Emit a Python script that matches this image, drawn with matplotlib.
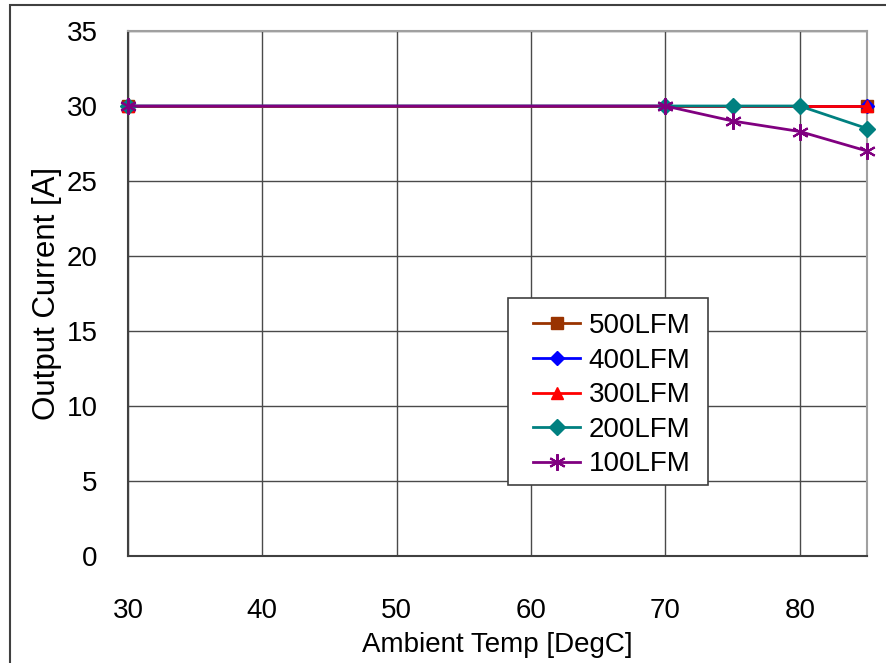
import matplotlib
matplotlib.use("Agg")
import matplotlib.pyplot as plt
from matplotlib.patches import Rectangle

plt.rcParams['font.family'] = ['Liberation Sans', 'DejaVu Sans']

# data
temp_500 = [30, 85]
curr_500 = [30, 30]
temp_400 = [30, 85]
curr_400 = [30, 30]
temp_300 = [30, 85]
curr_300 = [30, 30]
temp_200 = [30, 70, 75, 80, 85]
curr_200 = [30, 30, 30, 30, 28.5]
temp_100 = [30, 70, 75, 80, 85]
curr_100 = [30, 30, 29.0, 28.3, 27.0]

x_ticks = [30, 40, 50, 60, 70, 80]
y_ticks = [0, 5, 10, 15, 20, 25, 30, 35]

W, H = 887, 663
fig = plt.figure(figsize=(W / 100, H / 100), dpi=100)
ax = fig.add_axes([128 / W, 1 - 556 / H, (867 - 128) / W, (556 - 31) / H])

# outer frame, runs off the right and bottom edge
fig.patches.append(Rectangle((10 / W, -0.1), 1.2, 1 - 5 / H + 0.1,
                             transform=fig.transFigure, fill=False,
                             edgecolor='#404040', linewidth=1.5))

series = [
    (temp_500, curr_500, '#993300', 's', 8, '500LFM'),
    (temp_400, curr_400, '#0000FF', 'D', 7, '400LFM'),
    (temp_300, curr_300, '#FF0000', '^', 9, '300LFM'),
    (temp_200, curr_200, '#008080', 'D', 8, '200LFM'),
    (temp_100, curr_100, '#800080', (6, 2, 0), 12, '100LFM'),
]
for xs, ys, col, mk, ms, lab in series:
    ax.plot(xs, ys, color=col, marker=mk, markersize=ms, linewidth=2,
            markeredgewidth=1.5 if mk == (6, 2, 0) else 1,
            markerfacecolor=col, markeredgecolor=col, label=lab,
            clip_on=False, zorder=3)

ax.set_xlim(30, 85)
ax.set_ylim(0, 35)
ax.set_xticks(x_ticks)
ax.set_yticks(y_ticks)
ax.grid(True, color='#4a4a4a', linewidth=1.0)
ax.set_axisbelow(True)
ax.tick_params(labelsize=20, length=0)
ax.tick_params(axis='x', pad=30)
ax.tick_params(axis='y', pad=22)
for side in ['left', 'bottom']:
    ax.spines[side].set_color('#404040')
    ax.spines[side].set_linewidth(1.5)
for side in ['top', 'right']:
    ax.spines[side].set_color('#a0a0a0')
    ax.spines[side].set_linewidth(1.5)

ax.set_xlabel('Ambient Temp [DegC]', fontsize=20, labelpad=6)
ax.set_ylabel('Output Current [A]', fontsize=22.5, labelpad=3)

# legend box drawn by hand, entries placed inside it
ax.add_patch(Rectangle((508, H - 485), 200, 187, transform=None,
                       facecolor='white', edgecolor='#404040',
                       linewidth=1.2, zorder=4))
leg = ax.legend(loc='upper left',
                bbox_to_anchor=((533 - 128) / (867 - 128), 1 - (313 - 31) / (556 - 31)),
                fontsize=20, frameon=False, handlelength=1.7,
                handletextpad=0.3, labelspacing=0.31, borderpad=0,
                borderaxespad=0)
leg.set_zorder(5)

fig.savefig('out.png', dpi=100)
